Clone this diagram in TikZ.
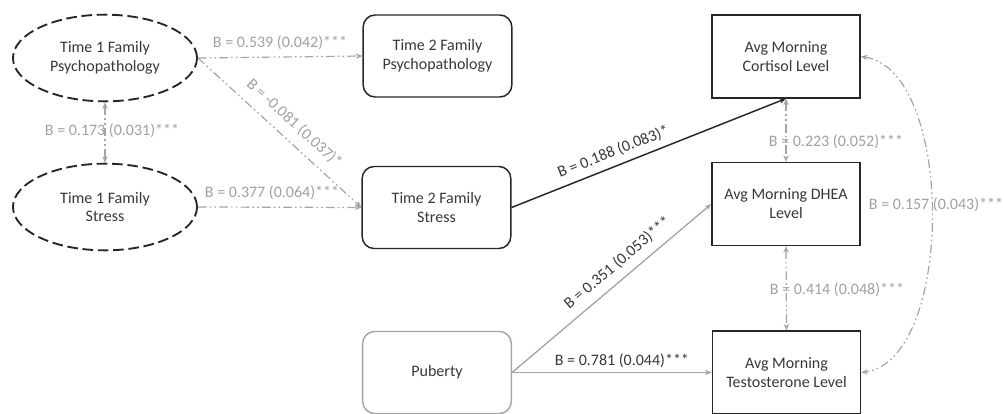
\documentclass[tikz,border=0pt]{standalone}
\usepackage{fontspec}
\setmainfont{Carlito}
\usetikzlibrary{shapes.geometric,arrows.meta}
\definecolor{txtdark}{RGB}{55,55,55}
\definecolor{lgray}{RGB}{165,165,165}
\definecolor{lbl}{RGB}{160,160,160}
\begin{document}
\begin{tikzpicture}[x=0.75pt,y=-0.75pt,
  every node/.style={font=\fontsize{12}{14.2}\selectfont, text=txtdark},
  latent/.style={ellipse, draw=black!85, line width=1.4pt, dash pattern=on 8pt off 3.5pt,
     minimum width=138pt, minimum height=65pt, align=center, inner sep=0pt},
  obsbox/.style={rectangle, rounded corners=9pt, draw=black!85, line width=1.1pt,
     minimum width=111.5pt, minimum height=61.5pt, align=center, inner sep=0pt},
  grayobs/.style={obsbox, draw=lgray},
  hormbox/.style={rectangle, draw=black!85, line width=1.1pt,
     minimum width=111pt, minimum height=62pt, align=center, inner sep=0pt},
  tip/.style={-{Stealth[length=5pt,width=4pt]}},
  dtip/.style={{Stealth[length=5pt,width=4pt]}-{Stealth[length=5pt,width=4pt]}},
  ddot/.style={draw=lgray, line width=0.9pt,
     dash pattern=on 6.5pt off 2.3pt on 1.3pt off 2.3pt on 1.3pt off 2.3pt},
  solidgray/.style={draw=lgray, line width=1pt},
  solidblack/.style={draw=black!85, line width=1.1pt},
  glab/.style={text=lbl, inner sep=2pt},
  dlab/.style={text=txtdark, inner sep=2pt}
]
\useasboundingbox (0,0) rectangle (1004,414);

% nodes
\node[latent] (e1) at (105,58) {Time 1 Family\\Psychopathology};
\node[latent] (e2) at (105,207) {Time 1 Family\\Stress};
\node[obsbox] (p2) at (437.5,56) {Time 2 Family\\Psychopathology};
\node[obsbox] (s2) at (436.5,207.5) {Time 2 Family\\Stress};
\node[grayobs] (pub) at (437,372.5) {Puberty};
\node[hormbox] (cort) at (786,56.5) {Avg Morning\\Cortisol Level};
\node[hormbox] (dhea) at (786,204) {Avg Morning DHEA\\Level};
\node[hormbox] (test) at (786.5,372.5) {Avg Morning\\Testosterone Level};

% left paths
\draw[ddot, tip] (e1.east) -- (p2.west);
\draw[ddot, tip] (e1.east) -- (s2.west)
   node[glab, pos=0.52, above, sloped, yshift=5pt] {B = -0.081 (0.037)*};
\draw[ddot, tip] (e2.east) -- (s2.west);
\draw[ddot, dtip] (e1.south) -- (e2.north);
\node[glab] (l1) at (280,43) {B = 0.539 (0.042)***};
\node[glab] (l2) at (272,193) {B = 0.377 (0.064)***};
\node[glab] (l3) at (112,131) {B = 0.173 (0.031)***};

% right paths
\draw[solidblack, tip] (s2.east) -- (cort.south)
   node[dlab, pos=0.39, above, sloped, yshift=3pt] {B = 0.188 (0.083)*};
\draw[solidgray, tip] (pub.east) -- (dhea.west)
   node[dlab, pos=0.58, above, sloped, yshift=4pt] {B = 0.351 (0.053)***};
\draw[solidgray, tip] (pub.east) -- (test.west)
   node[dlab, pos=0.55, above, yshift=1pt] {B = 0.781 (0.044)***};
\draw[ddot, dtip] (cort.south) -- (dhea.north);
\draw[ddot, dtip] (dhea.south) -- (test.north);
\draw[ddot, dtip] (cort.east) .. controls (955,70) and (955,360) .. (test.east);
\node[glab] (l4) at (836,142) {B = 0.223 (0.052)***};
\node[glab] (l5) at (837,290) {B = 0.414 (0.048)***};
\node[glab] (l6) at (936,205) {B = 0.157 (0.043)***};
\end{tikzpicture}
\end{document}
